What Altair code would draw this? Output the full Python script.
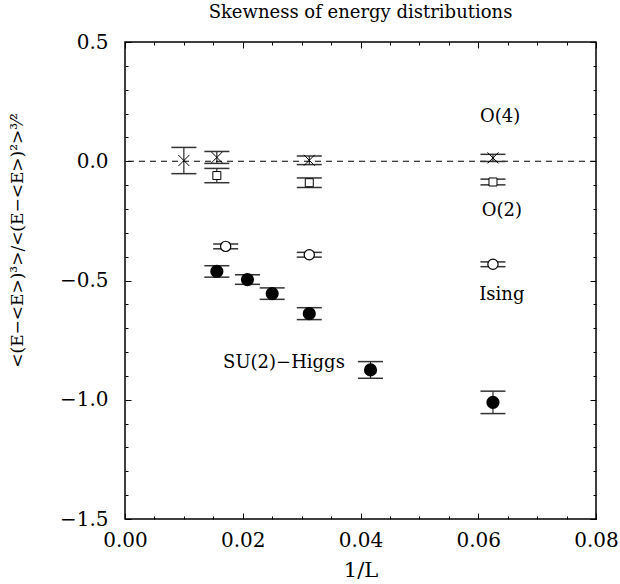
import altair as alt
import pandas as pd

# ---- data ----
o4_x = [0.0100, 0.0156, 0.0313, 0.0625]
o4_y = [0.003, 0.016, 0.004, 0.014]
o4_err = [0.055, 0.025, 0.018, 0.015]

o2_x = [0.0156, 0.0313, 0.0625]
o2_y = [-0.060, -0.090, -0.087]
o2_err = [0.030, 0.020, 0.012]

ising_x = [0.0171, 0.0313, 0.0625]
ising_y = [-0.357, -0.392, -0.432]
ising_err = [0.010, 0.010, 0.010]

su2_x = [0.0156, 0.0208, 0.0250, 0.0313, 0.0417, 0.0625]
su2_y = [-0.462, -0.496, -0.555, -0.639, -0.875, -1.011]
su2_err = [0.024, 0.020, 0.024, 0.025, 0.035, 0.047]

label_text = ["O(4)", "O(2)", "Ising", "SU(2)\u2212Higgs"]
label_x = [0.0637, 0.0640, 0.0640, 0.0270]
label_y = [0.187, -0.207, -0.559, -0.844]

x_major = [0.00, 0.02, 0.04, 0.06, 0.08]
x_all = [0.000, 0.005, 0.010, 0.015, 0.020, 0.025, 0.030, 0.035, 0.040,
         0.045, 0.050, 0.055, 0.060, 0.065, 0.070, 0.075, 0.080]
y_major = [-1.5, -1.0, -0.5, 0.0, 0.5]
y_all = [-1.5, -1.4, -1.3, -1.2, -1.1, -1.0, -0.9, -0.8, -0.7, -0.6, -0.5,
         -0.4, -0.3, -0.2, -0.1, 0.0, 0.1, 0.2, 0.3, 0.4, 0.5]

# ---- tables ----
rows = []
for name, xs_, ys_, es_ in [("O4", o4_x, o4_y, o4_err), ("O2", o2_x, o2_y, o2_err),
                            ("Ising", ising_x, ising_y, ising_err),
                            ("SU2", su2_x, su2_y, su2_err)]:
    for x, y, e in zip(xs_, ys_, es_):
        rows.append({"series": name, "x": x, "y": y, "lo": y - e, "hi": y + e})
df = pd.DataFrame(rows)
labels_df = pd.DataFrame({"text": label_text, "x": label_x, "y": label_y})
zero_df = pd.DataFrame({"y": [0.0]})

W, H = 471, 477
FONT = "DejaVu Serif, serif"

xs = alt.Scale(domain=[0, 0.08], nice=False, zero=False)
ys = alt.Scale(domain=[-1.5, 0.5], nice=False, zero=False)

x_test = "abs(datum.value/0.02 - round(datum.value/0.02)) < 0.001"
y_test = "abs(datum.value/0.5 - round(datum.value/0.5)) < 0.001"

ytitle = "<(E\u2212<E>)\u00b3>/<(E\u2212<E>)\u00b2>\u00b3\u2044\u00b2"

axA_x = alt.Axis(values=x_major, format=".2f", ticks=False, tickSize=0, domain=False,
                 grid=False, labelFont=FONT, labelFontSize=20, labelColor="black",
                 labelPadding=11, labelFlush=False, title="1/L", titleFont=FONT,
                 titleFontSize=21, titleFontWeight="normal", titleColor="black",
                 titleX=W / 2, titleY=51, titleBaseline="middle", titleAlign="center")
axA_y = alt.Axis(values=y_major, format=".1f", ticks=False, tickSize=0, domain=False,
                 grid=False, labelFont=FONT, labelFontSize=20, labelColor="black",
                 labelPadding=17, labelFlush=False, title=ytitle, titleFont=FONT,
                 titleFontSize=17, titleFontWeight="normal", titleColor="black",
                 titleX=-108, titleY=198, titleAngle=270, titleAlign="center",
                 titleBaseline="middle")


def tick_axis(orient, offset, values, test):
    return alt.Axis(orient=orient, offset=offset, values=values, labels=False,
                    domain=False, grid=False, ticks=True, tickColor="black",
                    tickWidth=1,
                    tickSize={"condition": {"test": test, "value": 6}, "value": 3},
                    title=None)


axB_x = tick_axis("top", -H, x_all, x_test)
axC_x = tick_axis("bottom", -H, x_all, x_test)
axB_y = tick_axis("right", -W, y_all, y_test)
axC_y = tick_axis("left", -W, y_all, y_test)

base = alt.Chart(df)

zero_line = alt.Chart(zero_df).mark_rule(color="black", strokeWidth=1, strokeDash=[6, 5]).encode(
    y=alt.Y("y:Q", scale=ys, axis=None))

errbars = base.mark_rule(color="black", strokeWidth=1).encode(
    x=alt.X("x:Q", scale=xs, axis=axA_x),
    y=alt.Y("lo:Q", scale=ys, axis=axA_y),
    y2="hi:Q")

cap_shape = "M-1,0L1,0"
caps_lo = base.mark_point(shape=cap_shape, size=625, filled=False, stroke="#333",
                          strokeWidth=1.5, opacity=1).encode(
    x=alt.X("x:Q", scale=xs, axis=axB_x),
    y=alt.Y("lo:Q", scale=ys, axis=axB_y))
caps_hi = base.mark_point(shape=cap_shape, size=625, filled=False, stroke="#333",
                          strokeWidth=1.5, opacity=1).encode(
    x=alt.X("x:Q", scale=xs, axis=axC_x),
    y=alt.Y("hi:Q", scale=ys, axis=axC_y))

enc = dict(x=alt.X("x:Q", scale=xs, axis=None), y=alt.Y("y:Q", scale=ys, axis=None))

su2_pts = base.transform_filter("datum.series == 'SU2'").mark_point(
    shape="circle", filled=True, fill="black", stroke="black", size=125, opacity=1).encode(**enc)
ising_pts = base.transform_filter("datum.series == 'Ising'").mark_point(
    shape="circle", filled=True, fill="white", stroke="black", strokeWidth=1.2,
    size=105, opacity=1).encode(**enc)
o2_pts = base.transform_filter("datum.series == 'O2'").mark_point(
    shape="square", filled=True, fill="white", stroke="black", strokeWidth=1,
    size=64, opacity=1).encode(**enc)
o4_pts = base.transform_filter("datum.series == 'O4'").mark_point(
    shape="M-1,-1L1,1M-1,1L1,-1", filled=False, stroke="black", strokeWidth=1,
    size=121, opacity=1).encode(**enc)

texts = alt.Chart(labels_df).mark_text(font=FONT, fontSize=18, color="black",
                                       align="center", baseline="middle").encode(
    x=alt.X("x:Q", scale=xs, axis=None), y=alt.Y("y:Q", scale=ys, axis=None),
    text="text:N")

chart = alt.layer(
    zero_line, errbars, caps_lo, caps_hi, su2_pts, ising_pts, o2_pts, o4_pts, texts
).resolve_axis(x="independent", y="independent").properties(
    width=W, height=H,
    autosize="none",
    padding={"left": 125, "top": 42, "right": 24, "bottom": 65},
    title=alt.TitleParams("Skewness of energy distributions", font=FONT, fontSize=18,
                          fontWeight="normal", color="black", anchor="middle",
                          offset=10),
    background="white",
).configure_view(stroke="black", strokeWidth=1.5)

chart.save("out.html", embed_options={"renderer": "svg", "actions": False})
